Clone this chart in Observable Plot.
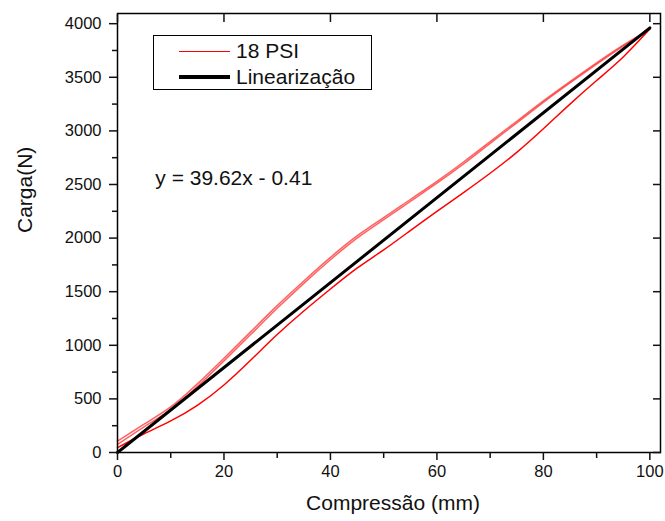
<!DOCTYPE html>
<html>
<head>
<meta charset="utf-8">
<script src="https://cdn.jsdelivr.net/npm/d3@7"></script>
<script src="https://cdn.jsdelivr.net/npm/@observablehq/plot@0.6"></script>
<style>
  html, body { margin: 0; padding: 0; background: #fff; }
  #wrap { position: relative; width: 665px; height: 521px; font-family: "Liberation Sans", Arial, sans-serif; }
  #legend { position: absolute; left: 153px; top: 35px; width: 217px; height: 53px; border: 1.5px solid #000; background: #fff; }
  #legend .row { position: absolute; left: 0; height: 26px; display: flex; align-items: center; font-size: 21px; color: #111; }
  #legend .sw { display: inline-block; width: 51px; margin-left: 25px; margin-right: 6px; }
</style>
</head>
<body>
<div id="wrap"></div>
<script>
// Compression (mm) sample positions
const compressao = [0, 5, 10, 15, 20, 25, 30, 35, 40, 45, 50, 55, 60, 65, 70, 75, 80, 85, 90, 95, 100];
// 18 PSI - upper (unloading) branch, two cycles
const cargaSuperiorA = [105, 265, 425, 640, 880, 1125, 1370, 1600, 1820, 2020, 2190, 2360, 2530, 2710, 2900, 3090, 3280, 3460, 3635, 3800, 3950];
const cargaSuperiorB = [75, 240, 400, 615, 855, 1100, 1345, 1578, 1798, 2000, 2172, 2342, 2512, 2692, 2884, 3074, 3266, 3447, 3622, 3790, 3950];
// 18 PSI - lower (loading) branch
const cargaInferior = [45, 175, 295, 440, 630, 860, 1100, 1320, 1525, 1720, 1890, 2070, 2250, 2425, 2605, 2800, 3020, 3250, 3470, 3690, 3950];
// Linear fit y = 39.62x - 0.41
const linX = [0, 100];
const linY = [-0.41, 3961.59];

const xTicks = [0, 20, 40, 60, 80, 100];
const xMinor = [10, 30, 50, 70, 90];
const yTicks = [0, 500, 1000, 1500, 2000, 2500, 3000, 3500, 4000];
const yMinor = [250, 750, 1250, 1750, 2250, 2750, 3250, 3750];

const seriesLabels = ["18 PSI", "Linearização"];
const equacao = "y = 39.62x - 0.41";
const xTitle = "Compressão (mm)";
const yTitle = "Carga(N)";

const mk = (ys) => compressao.map((x, i) => ({x, y: ys[i]}));
const supA = mk(cargaSuperiorA), supB = mk(cargaSuperiorB), inf = mk(cargaInferior);
const lin = linX.map((x, i) => ({x, y: linY[i]}));
const fmt = d3.format("d");

const chart = Plot.plot({
  width: 665,
  height: 521,
  marginLeft: 117,
  marginRight: 5,
  marginTop: 13,
  marginBottom: 69,
  style: {fontFamily: '"Liberation Sans", Arial, sans-serif', background: "#fff", color: "#111"},
  x: {domain: [0, 102]},
  y: {domain: [0, 4095]},
  marks: [
    Plot.line(supA, {x: "x", y: "y", stroke: "#ff2020", strokeWidth: 1.5, strokeOpacity: 0.7, curve: "natural"}),
    Plot.line(supB, {x: "x", y: "y", stroke: "#ff2020", strokeWidth: 1.5, strokeOpacity: 0.7, curve: "natural"}),
    Plot.line(inf, {x: "x", y: "y", stroke: "#ff0000", strokeWidth: 1.5, curve: "natural"}),
    Plot.line(lin, {x: "x", y: "y", stroke: "#000", strokeWidth: 3}),
    Plot.text([equacao], {x: 7.1, y: 2556, text: d => d, textAnchor: "start", fontSize: 21, fill: "#111"}),
    Plot.frame({stroke: "#000", strokeWidth: 1.5}),
    Plot.axisY({ticks: yTicks, tickFormat: fmt, tickSize: 8, tickPadding: 8, fontSize: 16.5, label: null, strokeWidth: 1.5}),
    Plot.axisY({ticks: yMinor, tickSize: 5, text: null, label: null, strokeWidth: 1.5}),
    Plot.axisY({anchor: "right", ticks: yTicks, tickSize: 8, text: null, label: null, dx: -8, strokeWidth: 1.5}),
    Plot.axisX({ticks: xTicks, tickFormat: fmt, tickSize: 8, tickPadding: 5, fontSize: 16.5, label: null, strokeWidth: 1.5}),
    Plot.axisX({ticks: xMinor, tickSize: 6, text: null, label: null, strokeWidth: 1.5}),
    Plot.axisX({anchor: "top", ticks: xTicks, tickSize: 8, text: null, label: null, dy: 8, strokeWidth: 1.5}),
    Plot.text([xTitle], {frameAnchor: "bottom", text: d => d, dy: 57, dx: 4, fontSize: 21, fill: "#111"}),
    Plot.text([yTitle], {frameAnchor: "left", text: d => d, dx: -92, rotate: -90, fontSize: 21, fill: "#111"})
  ]
});

const wrap = document.getElementById("wrap");
wrap.appendChild(chart);

const legend = document.createElement("div");
legend.id = "legend";
legend.innerHTML = `
  <div class="row" style="top:2px"><span class="sw" style="border-top:1.5px solid #ff0000"></span>${seriesLabels[0]}</div>
  <div class="row" style="top:28px"><span class="sw" style="border-top:4px solid #000"></span>${seriesLabels[1]}</div>`;
wrap.appendChild(legend);
</script>
</body>
</html>
